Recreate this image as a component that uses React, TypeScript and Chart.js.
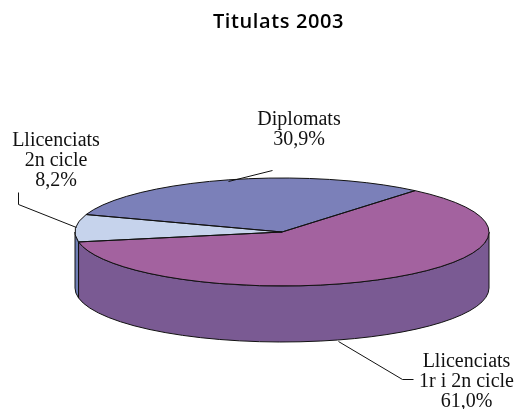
import React, { useEffect, useRef } from "react";
import { Chart, registerables } from "chart.js";

Chart.register(...registerables);

const titleText = "Titulats 2003";
const categories = ["Llicenciats|1r i 2n cicle", "Llicenciats|2n cicle", "Diplomats"];
const values = [61.0, 8.2, 30.9];
const topColors = ["#a3629f", "#c6d3ec", "#7b80b9"];
const sideColors = ["#7a5a93", "#6f7fb5", "#5c6096"];
const labelAnchors = [
  { x: 466.5, y: 382 },
  { x: 56, y: 161 },
  { x: 299, y: 130 },
];
const leaders = [
  [[338, 341], [402, 379], [413, 379]],
  [[18, 192], [18, 204], [76, 227]],
  [[272, 170], [228, 181]],
];

const CX = 282;
const CY = 232;
const RX = 207;
const SQUASH = 54 / 207;
const DEPTH = 56;
const INK = "#111111";

const pie3d = {
  id: "pie3d",
  beforeDatasetDraw(chart: any) {
    const ctx = chart.ctx;
    const arcs = chart.getDatasetMeta(0).data;
    const ry = arcs[0].outerRadius * SQUASH;
    const rx = arcs[0].outerRadius;
    const x = arcs[0].x;
    const y = arcs[0].y;
    arcs.forEach((arc: any, i: number) => {
      for (const shift of [0, Math.PI * 2, -Math.PI * 2]) {
        const a = Math.max(arc.startAngle + shift, 0);
        const b = Math.min(arc.endAngle + shift, Math.PI);
        if (b <= a) continue;
        ctx.beginPath();
        ctx.ellipse(x, y, rx, ry, 0, a, b);
        ctx.ellipse(x, y + DEPTH, rx, ry, 0, b, a, true);
        ctx.closePath();
        ctx.fillStyle = sideColors[i];
        ctx.fill();
        ctx.strokeStyle = INK;
        ctx.lineWidth = 1;
        ctx.stroke();
      }
    });
    ctx.save();
    ctx.translate(x, y);
    ctx.scale(1, SQUASH);
    ctx.translate(-x, -y);
  },
  afterDatasetDraw(chart: any) {
    const ctx = chart.ctx;
    ctx.restore();
    const arcs = chart.getDatasetMeta(0).data;
    const rx = arcs[0].outerRadius;
    const ry = rx * SQUASH;
    arcs.forEach((arc: any) => {
      ctx.beginPath();
      ctx.moveTo(arc.x, arc.y);
      ctx.ellipse(arc.x, arc.y, rx, ry, 0, arc.startAngle, arc.endAngle);
      ctx.closePath();
      ctx.strokeStyle = INK;
      ctx.lineWidth = 1;
      ctx.stroke();
    });
  },
  afterDraw(chart: any) {
    const ctx = chart.ctx;
    ctx.save();
    ctx.fillStyle = "#000000";
    ctx.textAlign = "center";
    ctx.textBaseline = "middle";
    ctx.font = "600 20px 'Open Sans'";
    (ctx as any).letterSpacing = "0.6px";
    ctx.fillText(titleText, 278.5, 22);
    (ctx as any).letterSpacing = "0px";

    ctx.font = "20px 'Liberation Serif'";
    ctx.fillStyle = "#111111";
    categories.forEach((cat, i) => {
      const lines = [...cat.split("|"), values[i].toFixed(1).replace(".", ",") + "%"];
      lines.forEach((line, j) => {
        ctx.fillText(line, labelAnchors[i].x, labelAnchors[i].y + (j - (lines.length - 1) / 2) * 20);
      });
    });

    ctx.strokeStyle = "#111111";
    ctx.lineWidth = 1;
    leaders.forEach((pts) => {
      ctx.beginPath();
      pts.forEach((p, k) => (k ? ctx.lineTo(p[0] + 0.5, p[1] + 0.5) : ctx.moveTo(p[0] + 0.5, p[1] + 0.5)));
      ctx.stroke();
    });
    ctx.restore();
  },
};

export default function App() {
  const ref = useRef<HTMLCanvasElement>(null);
  useEffect(() => {
    document.body.style.margin = "0";
    const chart = new Chart(ref.current as HTMLCanvasElement, {
      type: "pie",
      data: {
        labels: categories.map((c) => c.replace("|", " ")),
        datasets: [
          {
            data: values,
            backgroundColor: topColors,
            borderWidth: 0,
          },
        ],
      },
      options: {
        animation: false,
        responsive: false,
        devicePixelRatio: 1,
        radius: RX,
        rotation: 40,
        layout: {
          padding: {
            left: 2 * (CX - 258),
            right: 0,
            top: 2 * CY - 409,
            bottom: 0,
          },
        },
        plugins: {
          legend: { display: false },
          title: { display: false },
          tooltip: { enabled: false },
        },
      },
      plugins: [pie3d],
    } as any);
    return () => chart.destroy();
  }, []);
  return <canvas ref={ref} width={516} height={409} style={{ display: "block" }} />;
}
